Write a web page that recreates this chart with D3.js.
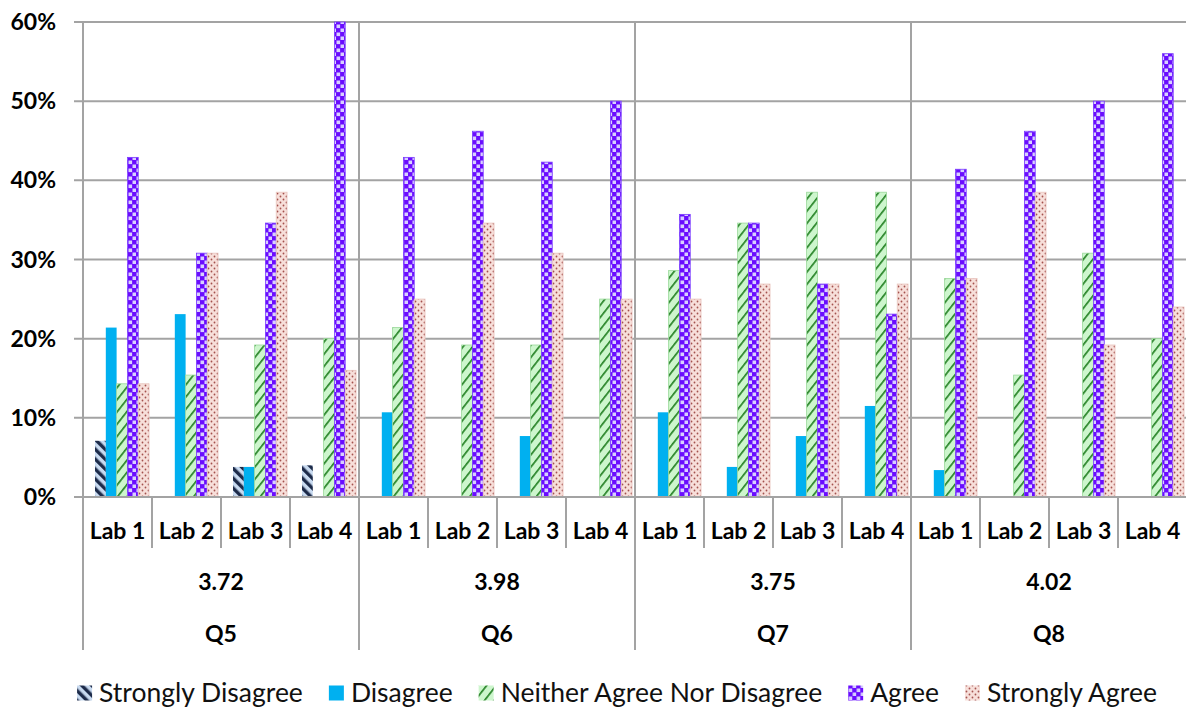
<!DOCTYPE html>
<html>
<head>
<meta charset="utf-8">
<script src="https://cdn.jsdelivr.net/npm/d3@7/dist/d3.min.js"></script>
<style>
  html, body { margin: 0; padding: 0; background: #fff; }
  svg { display: block; }
</style>
</head>
<body>
<svg id="chart" width="1186" height="709"></svg>
<script>
// Survey questions, their mean scores and the labs within each question
const questions = ["Q5", "Q6", "Q7", "Q8"];
const means = ["3.72", "3.98", "3.75", "4.02"];
const labs = ["Lab 1", "Lab 2", "Lab 3", "Lab 4"];
const seriesNames = ["Strongly Disagree", "Disagree", "Neither Agree Nor Disagree", "Agree", "Strongly Agree"];

// Percent of responses, ordered Q5 Lab1..Lab4, Q6 Lab1..Lab4, Q7 ..., Q8 ...
const stronglyDisagree = [7.1, 0, 3.8, 4.0, 0, 0, 0, 0, 0, 0, 0, 0, 0, 0, 0, 0];
const disagree = [21.4, 23.1, 3.8, 0, 10.7, 0, 7.7, 0, 10.7, 3.8, 7.7, 11.5, 3.4, 0, 0, 0];
const neither = [14.3, 15.4, 19.2, 20.0, 21.4, 19.2, 19.2, 25.0, 28.6, 34.6, 38.5, 38.5, 27.6, 15.4, 30.8, 20.0];
const agree = [42.9, 30.8, 34.6, 60.0, 42.9, 46.2, 42.3, 50.0, 35.7, 34.6, 26.9, 23.1, 41.4, 46.2, 50.0, 56.0];
const stronglyAgree = [14.3, 30.8, 38.5, 16.0, 25.0, 34.6, 30.8, 25.0, 25.0, 26.9, 26.9, 26.9, 27.6, 38.5, 19.2, 24.0];

const yTicks = [0, 10, 20, 30, 40, 50, 60];

const seriesValues = [stronglyDisagree, disagree, neither, agree, stronglyAgree];
const fills = ["url(#pSD)", "#00b0f0", "url(#pN)", "url(#pA)", "url(#pSA)"];
const strokes = ["none", "none", "#9ad89a", "#7a3cff", "#e8c4bd"];

const svg = d3.select("#chart");
const W = 1186;
const plotLeft = 83, plotTop = 22, plotBase = 497, plotRight = 1187;
const gridColor = "#a3a3a3";
const labelFont = "Lato, 'Open Sans', sans-serif";
const axisFontSize = 23;

// ---- fill patterns ----
const defs = svg.append("defs");

const pSD = defs.append("pattern").attr("id", "pSD").attr("patternUnits", "userSpaceOnUse")
  .attr("width", 7).attr("height", 7).attr("patternTransform", "rotate(-45)");
pSD.append("rect").attr("width", 7).attr("height", 7).attr("fill", "#c8daf0");
pSD.append("rect").attr("width", 3.4).attr("height", 7).attr("fill", "#1d2b4a");

const pN = defs.append("pattern").attr("id", "pN").attr("patternUnits", "userSpaceOnUse")
  .attr("width", 7.5).attr("height", 7.5).attr("patternTransform", "rotate(38)");
pN.append("rect").attr("width", 7.5).attr("height", 7.5).attr("fill", "#cdf6cd");
pN.append("rect").attr("width", 1.7).attr("height", 7.5).attr("fill", "#2a852a");

const pA = defs.append("pattern").attr("id", "pA").attr("patternUnits", "userSpaceOnUse")
  .attr("width", 8).attr("height", 8);
pA.append("rect").attr("width", 8).attr("height", 8).attr("fill", "#6a0cff");
pA.append("rect").attr("x", 0.5).attr("y", 0.5).attr("width", 3.6).attr("height", 3.6).attr("fill", "#d8d0ff");
pA.append("rect").attr("x", 4.5).attr("y", 4.5).attr("width", 3.6).attr("height", 3.6).attr("fill", "#d8d0ff");

const pSA = defs.append("pattern").attr("id", "pSA").attr("patternUnits", "userSpaceOnUse")
  .attr("width", 6).attr("height", 6);
pSA.append("rect").attr("width", 6).attr("height", 6).attr("fill", "#f7dfda");
pSA.append("circle").attr("cx", 1.5).attr("cy", 1.5).attr("r", 0.9).attr("fill", "#a3504c");
pSA.append("circle").attr("cx", 4.5).attr("cy", 4.5).attr("r", 0.9).attr("fill", "#a3504c");

// ---- scales ----
const cells = [];
questions.forEach((q, qi) => labs.forEach((l, li) => cells.push({ q, qi, l, li, i: qi * labs.length + li })));

const x0 = d3.scaleBand().domain(cells.map(c => c.i)).range([plotLeft, plotRight]).padding(0);
const bw = x0.bandwidth();
const x1 = d3.scaleBand().domain(d3.range(seriesNames.length))
  .range([bw * 0.174, bw * 0.957]).padding(0);
const y = d3.scaleLinear().domain([0, 60]).range([plotBase, plotTop]).clamp(true);

// ---- gridlines and value axis ----
svg.append("g").selectAll("line").data(yTicks).join("line")
  .attr("x1", plotLeft - 9).attr("x2", W)
  .attr("y1", d => y(d)).attr("y2", d => y(d))
  .attr("stroke", gridColor).attr("stroke-width", 2);

svg.append("g").selectAll("text").data(yTicks).join("text")
  .attr("x", 56).attr("y", d => y(d)).attr("dy", "0.35em")
  .attr("text-anchor", "end")
  .attr("font-family", labelFont).attr("font-weight", 700).attr("font-size", axisFontSize)
  .text(d => d3.format(".0%")(d / 100));

// ---- bars ----
const barG = svg.append("g");
seriesNames.forEach((name, si) => {
  barG.append("g").selectAll("rect")
    .data(cells.filter(c => seriesValues[si][c.i] > 0))
    .join("rect")
    .attr("x", c => x0(c.i) + x1(si))
    .attr("width", x1.bandwidth())
    .attr("y", c => y(seriesValues[si][c.i]))
    .attr("height", c => plotBase - y(seriesValues[si][c.i]))
    .attr("fill", fills[si])
    .attr("stroke", strokes[si]).attr("stroke-width", 0.8);
});

// ---- category axis ----
svg.append("line").attr("x1", plotLeft).attr("x2", W).attr("y1", plotBase).attr("y2", plotBase)
  .attr("stroke", gridColor).attr("stroke-width", 2);

const sepG = svg.append("g");
d3.range(cells.length + 1).forEach(k => {
  const xx = k < cells.length ? x0(k) : plotRight;
  const isGroup = k % labs.length === 0;
  sepG.append("line")
    .attr("x1", xx).attr("x2", xx)
    .attr("y1", isGroup ? plotTop : plotBase)
    .attr("y2", isGroup ? 650 : 548)
    .attr("stroke", gridColor).attr("stroke-width", 2);
});

svg.append("g").selectAll("text").data(cells).join("text")
  .attr("x", c => x0(c.i) + bw / 2).attr("y", 531).attr("dy", "0.35em")
  .attr("text-anchor", "middle")
  .attr("font-family", labelFont).attr("font-weight", 700).attr("font-size", axisFontSize)
  .text(c => c.l);

const groupW = bw * labs.length;
svg.append("g").selectAll("text").data(means).join("text")
  .attr("x", (d, i) => plotLeft + groupW * i + groupW / 2).attr("y", 582).attr("dy", "0.35em")
  .attr("text-anchor", "middle")
  .attr("font-family", labelFont).attr("font-weight", 700).attr("font-size", axisFontSize)
  .text(d => d);

svg.append("g").selectAll("text").data(questions).join("text")
  .attr("x", (d, i) => plotLeft + groupW * i + groupW / 2).attr("y", 634).attr("dy", "0.35em")
  .attr("text-anchor", "middle")
  .attr("font-family", labelFont).attr("font-weight", 700).attr("font-size", axisFontSize)
  .text(d => d);

// ---- legend ----
const legend = svg.append("g");
const iconSize = 15, iconGap = 7, itemGap = 26, legendY = 693;
let cursor = 0;
seriesNames.forEach((name, si) => {
  const g = legend.append("g");
  g.append("rect").attr("x", 0).attr("y", legendY - iconSize / 2)
    .attr("width", iconSize).attr("height", iconSize)
    .attr("fill", fills[si]);
  const t = g.append("text").attr("x", iconSize + iconGap).attr("y", legendY).attr("dy", "0.35em")
    .attr("font-family", labelFont).attr("font-size", 26.5).attr("fill", "#111")
    .text(name);
  const w = iconSize + iconGap + t.node().getComputedTextLength();
  g.attr("transform", `translate(${cursor},0)`);
  cursor += w + itemGap;
});
const total = cursor - itemGap;
legend.attr("transform", `translate(${617 - total / 2},0)`);
</script>
</body>
</html>
